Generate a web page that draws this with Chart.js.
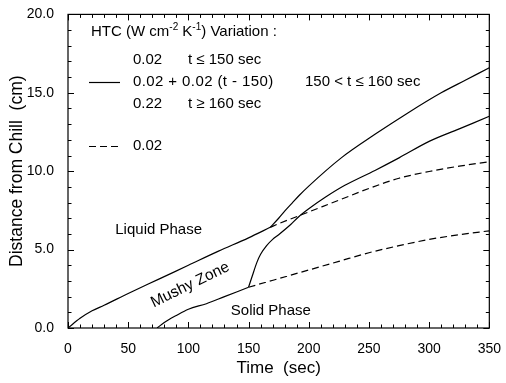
<!DOCTYPE html>
<html><head><meta charset="utf-8">
<script src="https://cdn.jsdelivr.net/npm/chart.js@4"></script>
<style>html,body{margin:0;padding:0;background:#fff}#wrap{width:506px;height:383px;position:relative}</style>
</head><body><div id="wrap"><canvas id="c"></canvas></div>
<script>
// ---- data ----
const liquidT   = [0, 10, 20, 30, 50, 75, 100, 125, 150, 168];
const liquidV   = [0, 0.62, 1.1, 1.45, 2.2, 3.1, 4.0, 4.9, 5.75, 6.42];
const solidT    = [74, 80, 90, 100, 115, 130, 150];
const solidV    = [0, 0.35, 0.8, 1.2, 1.55, 2.0, 2.6];
const varLiqT   = [168, 175, 180, 186, 192, 200, 227, 255, 282, 310, 330, 350];
const varLiqV   = [6.42, 7.0, 7.45, 7.95, 8.45, 9.05, 10.85, 12.35, 13.7, 15.0, 15.8, 16.6];
const varSolT   = [150, 153, 157, 160, 165, 170, 175, 185, 191, 200, 214, 230, 255, 275, 300, 325, 350];
const varSolV   = [2.6, 3.3, 4.2, 4.7, 5.25, 5.65, 5.95, 6.6, 7.05, 7.6, 8.35, 9.1, 10.05, 10.85, 11.9, 12.7, 13.5];
const constLiqT = [168, 175, 200, 225, 250, 275, 300, 325, 350];
const constLiqV = [6.42, 6.65, 7.4, 8.15, 8.9, 9.55, 9.98, 10.32, 10.6];
const constSolT = [150, 175, 200, 225, 250, 275, 300, 325, 350];
const constSolV = [2.6, 3.15, 3.7, 4.25, 4.8, 5.25, 5.65, 5.95, 6.2];
const xTickLabels = [0, 50, 100, 150, 200, 250, 300, 350];
const yTickLabels = ['0.0', '5.0', '10.0', '15.0', '20.0'];

const FONT = '"Liberation Sans", Arial, Helvetica, sans-serif';
const pts = (T, V) => T.map((t, i) => ({x: t, y: V[i]}));
const line = (T, V, dashed) => ({
  data: pts(T, V), showLine: true, borderColor: '#000', borderWidth: 1.2,
  pointRadius: 0, cubicInterpolationMode: 'monotone', fill: false,
  borderDash: dashed ? [7, 4] : []
});

const deco = {
  id: 'deco',
  afterDraw(chart) {
    const {ctx, chartArea: a, scales: {x, y}} = chart;
    ctx.save();
    ctx.strokeStyle = '#000';
    ctx.lineWidth = 1.2;
    ctx.strokeRect(a.left, a.top, a.right - a.left, a.bottom - a.top);
    ctx.lineWidth = 1;
    ctx.beginPath();
    for (let t = 0; t <= 350; t += 10) {
      const px = Math.round(x.getPixelForValue(t)) + 0.5;
      const L = t % 50 === 0 ? 6 : 3.5;
      ctx.moveTo(px, a.bottom); ctx.lineTo(px, a.bottom - L);
      ctx.moveTo(px, a.top); ctx.lineTo(px, a.top + L);
    }
    for (let v = 0; v <= 20; v += 1) {
      const py = Math.round(y.getPixelForValue(v)) + 0.5;
      const L = v % 5 === 0 ? 6 : 3.5;
      ctx.moveTo(a.left, py); ctx.lineTo(a.left + L, py);
      ctx.moveTo(a.right, py); ctx.lineTo(a.right - L, py);
    }
    ctx.stroke();

    // region labels
    ctx.fillStyle = '#000';
    ctx.font = '15px ' + FONT;
    ctx.textBaseline = 'middle';
    ctx.textAlign = 'center';
    ctx.fillText('Liquid Phase', x.getPixelForValue(75.3), y.getPixelForValue(6.29));
    ctx.fillText('Solid Phase', x.getPixelForValue(168.5), y.getPixelForValue(1.08));
    ctx.save();
    ctx.translate(x.getPixelForValue(101.5), y.getPixelForValue(2.75));
    ctx.rotate(-26 * Math.PI / 180);
    ctx.font = '15.5px ' + FONT;
    ctx.fillText('Mushy Zone', 0, 0);
    ctx.restore();

    // legend block
    ctx.textAlign = 'left';
    let cx = 91, cy = 32;
    const seg = (s, size, dy) => {
      ctx.font = size + 'px ' + FONT;
      ctx.fillText(s, cx, cy + dy);
      cx += ctx.measureText(s).width;
    };
    seg('HTC (W cm', 15, 0); seg('-2', 10, -5); seg(' K', 15, 0); seg('-1', 10, -5); seg(') Variation :', 15, 0);
    ctx.font = '15px ' + FONT;
    ctx.fillText('0.02', 133, 60);
    ctx.fillText('t \u2264 150 sec', 188, 60);
    ctx.letterSpacing = '0.4px';
    ctx.fillText('0.02 + 0.02 (t - 150)', 133, 82);
    ctx.letterSpacing = '0px';
    ctx.fillText('150 < t \u2264 160 sec', 305, 82);
    ctx.fillText('0.22', 133, 104);
    ctx.fillText('t \u2265 160 sec', 188, 104);
    ctx.fillText('0.02', 133, 146);
    ctx.lineWidth = 1.2;
    ctx.beginPath(); ctx.moveTo(89, 82.5); ctx.lineTo(120, 82.5); ctx.stroke();
    ctx.setLineDash([7, 4]);
    ctx.beginPath(); ctx.moveTo(89, 146.5); ctx.lineTo(120, 146.5); ctx.stroke();
    ctx.restore();
  }
};

new Chart(document.getElementById('c'), {
  type: 'scatter',
  data: {
    datasets: [
      line(liquidT, liquidV, false),
      line(solidT, solidV, false),
      line(varLiqT, varLiqV, false),
      line(varSolT, varSolV, false),
      line(constLiqT, constLiqV, true),
      line(constSolT, constSolV, true)
    ]
  },
  options: {
    responsive: true, maintainAspectRatio: false, animation: false,
    layout: {padding: {left: 0, right: 14, top: 13, bottom: 0}},
    plugins: {legend: {display: false}, tooltip: {enabled: false}},
    scales: {
      x: {
        type: 'linear', min: 0, max: 350,
        afterFit: s => { s.height = 55; },
        afterBuildTicks: s => { s.ticks = xTickLabels.map(v => ({value: v})); },
        ticks: {color: '#000', font: {family: FONT, size: 14}, padding: 5, maxRotation: 0,
                callback: v => String(v)},
        grid: {display: false}, border: {display: false},
        title: {display: true, text: 'Time  (sec)', color: '#000',
                font: {family: FONT, size: 17}, padding: {top: 0, bottom: 4}}
      },
      y: {
        type: 'linear', min: 0, max: 20,
        afterFit: s => { s.width = 68; },
        afterBuildTicks: s => { s.ticks = yTickLabels.map((t, i) => ({value: i * 5})); },
        ticks: {color: '#000', font: {family: FONT, size: 14}, padding: 6,
                callback: (v, i) => yTickLabels[i]},
        grid: {display: false}, border: {display: false},
        title: {display: true, text: 'Distance from Chill  (cm)', color: '#000',
                font: {family: FONT, size: 17.5}, padding: {top: 7, bottom: 0}}
      }
    }
  },
  plugins: [deco]
});
</script></body></html>
